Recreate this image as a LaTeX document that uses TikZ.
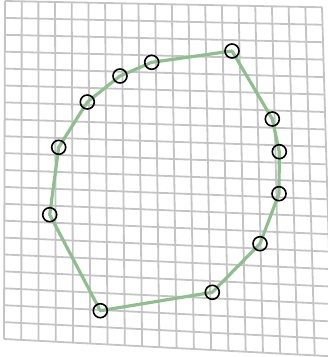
\documentclass[tikz,border=0pt]{standalone}
\usepackage{tikz}

\definecolor{meshgray}{RGB}{196,196,196}
\definecolor{routegreen}{RGB}{143,190,143}

\tikzset{
  meshline/.style={meshgray,line width=1.8pt},
  route/.style={routegreen,line width=3.2pt,line join=round},
  vtx/.style={circle,draw=black,line width=1.6pt,minimum size=14pt,inner sep=0pt}
}

\begin{document}
\begin{tikzpicture}[x=1pt,y=-1pt]
    \useasboundingbox (0,0) rectangle (328,357);
    % ---- warped mesh: corners (5,1) (322,7.3) (4,339) (332,356) ----
    \foreach \i in {0,...,19}{
      \pgfmathsetmacro{\xt}{5+317*\i/19}
      \pgfmathsetmacro{\yt}{1+6.3*\i/19}
      \pgfmathsetmacro{\xb}{4+328*\i/19}
      \pgfmathsetmacro{\yb}{339+17*\i/19}
      \draw[meshline] (\xt,\yt) -- (\xb,\yb);}
    \foreach \j in {0,...,20}{
      \pgfmathsetmacro{\xl}{5-1*\j/20}
      \pgfmathsetmacro{\yl}{1+338*\j/20}
      \pgfmathsetmacro{\xr}{322+10*\j/20}
      \pgfmathsetmacro{\yr}{7.3+349*\j/20}
      \draw[meshline] (\xl,\yl) -- (\xr,\yr);}
    % ---- polygon corners ----
    \foreach \n/\x/\y in {%
      p1/232/51,p2/272.3/119,p3/279.3/151.7,p4/279/193.7,%
      p5/260/243.7,p6/212.3/292.3,p7/100.3/310.7,p8/49.7/214.7,%
      p9/58.7/147.3,p10/87.3/102,p11/120/76,p12/151.7/62.3}{
        \coordinate (\n) at (\x,\y);}
    \draw[route] (p1) -- (p2) -- (p3) -- (p4) -- (p5) -- (p6) -- (p7)
                 -- (p8) -- (p9) -- (p10) -- (p11) -- (p12) -- cycle;
    \foreach \n in {p1,p2,p3,p4,p5,p6,p7,p8,p9,p10,p11,p12}{
        \node[vtx] (c\n) at (\n) {};}
\end{tikzpicture}
\end{document}
